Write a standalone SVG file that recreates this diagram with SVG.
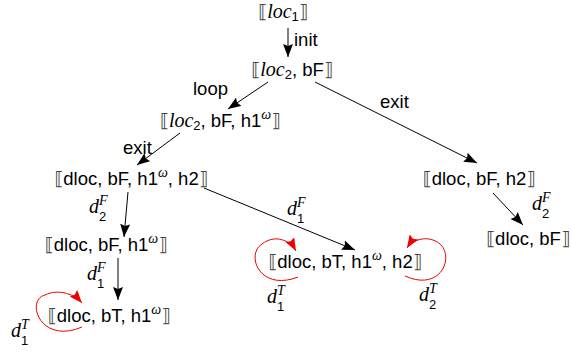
<svg xmlns="http://www.w3.org/2000/svg" width="571" height="352" viewBox="0 0 571 352">
<defs>
<style>
text{font-family:"Liberation Sans","DejaVu Sans",sans-serif;font-size:18.5px;fill:#000}
.n{text-anchor:middle}
.b{font-family:"DejaVu Sans",sans-serif;fill:#444}
.m{font-family:"Liberation Serif","DejaVu Serif",serif;font-style:italic;font-size:20px}
.s{font-size:13px}
.ms{font-family:"Liberation Serif","DejaVu Serif",serif;font-style:italic;font-size:14px}
.e{fill:none;stroke:#000;stroke-width:1}
.r{fill:none;stroke:#e00;stroke-width:1}
</style>
<marker id="ak" markerWidth="13" markerHeight="10" refX="13" refY="5" orient="auto" markerUnits="userSpaceOnUse"><path d="M0,0 L13,5 L0,10 L2,5 z" fill="#000"/></marker>
<marker id="ar" markerWidth="13" markerHeight="10" refX="13" refY="5" orient="auto" markerUnits="userSpaceOnUse"><path d="M0,0 L13,5 L0,10 L2,5 z" fill="#e00"/></marker>
</defs>
<g id="connectors">
<path class="e" d="M288,28 L288,57" marker-end="url(#ak)"/>
<path class="e" d="M268,82 L228,109" marker-end="url(#ak)"/>
<path class="e" d="M180,133 L137,165" marker-end="url(#ak)"/>
<path class="e" d="M315,82 L477,163" marker-end="url(#ak)"/>
<path class="e" d="M493,193 L523,225" marker-end="url(#ak)"/>
<path class="e" d="M128,192 L124,237" marker-end="url(#ak)"/>
<path class="e" d="M118,258 L118,300" marker-end="url(#ak)"/>
<path class="e" d="M204,188 L355,250" marker-end="url(#ak)"/>
<path class="r" d="M82,327 C40,345 25,300 45,295 C60,288 75,295 82,303" marker-end="url(#ar)"/>
<path class="r" d="M298,277 C260,292 245,255 262,244 C275,234 290,240 296,251" marker-end="url(#ar)"/>
<path class="r" d="M405,276 C440,292 455,258 440,244 C428,234 412,240 407,248" marker-end="url(#ar)"/>
<text x="294" y="46">init</text>
<text x="193" y="95">loop</text>
<text x="123" y="154">exit</text>
<text x="380" y="108">exit</text>
<g id="lbl-d2F-left"><text class="m" x="89" y="213">d</text><text class="ms" x="99" y="205">F</text><text class="s" x="99" y="221">2</text></g>
<g id="lbl-d1F-mid"><text class="m" x="287" y="215">d</text><text class="ms" x="297" y="207">F</text><text class="s" x="297" y="223">1</text></g>
<g id="lbl-d1F-low"><text class="m" x="87" y="280">d</text><text class="ms" x="97" y="272">F</text><text class="s" x="97" y="288">1</text></g>
<g id="lbl-d2F-right"><text class="m" x="532" y="210">d</text><text class="ms" x="542" y="202">F</text><text class="s" x="542" y="218">2</text></g>
<g id="lbl-d1T-left"><text class="m" x="11" y="337">d</text><text class="ms" x="21" y="329">T</text><text class="s" x="21" y="345">1</text></g>
<g id="lbl-d1T-mid"><text class="m" x="267" y="303">d</text><text class="ms" x="277" y="295">T</text><text class="s" x="277" y="311">1</text></g>
<g id="lbl-d2T"><text class="m" x="419" y="301">d</text><text class="ms" x="429" y="293">T</text><text class="s" x="429" y="309">2</text></g>
</g>
<g id="n1"><text class="n" x="283" y="18"><tspan class="b">⟦</tspan><tspan class="m">loc</tspan><tspan class="s" dy="3">1</tspan><tspan class="b" dy="-3">⟧</tspan></text></g>
<g id="n2"><text class="n" x="292" y="76"><tspan class="b">⟦</tspan><tspan class="m">loc</tspan><tspan class="s" dy="3">2</tspan><tspan dy="-3">, bF</tspan><tspan class="b">⟧</tspan></text></g>
<g id="n3"><text class="n" x="220" y="127"><tspan class="b">⟦</tspan><tspan class="m">loc</tspan><tspan class="s" dy="3">2</tspan><tspan dy="-3">, bF, h1</tspan><tspan class="ms" dy="-8">ω</tspan><tspan class="b" dy="8">⟧</tspan></text></g>
<g id="n4"><text class="n" x="131" y="185"><tspan class="b">⟦</tspan>dloc, bF, h1<tspan class="ms" dy="-8">ω</tspan><tspan dy="8">, h2</tspan><tspan class="b">⟧</tspan></text></g>
<g id="n5"><text class="n" x="479" y="185"><tspan class="b">⟦</tspan>dloc, bF, h2<tspan class="b">⟧</tspan></text></g>
<g id="n6"><text class="n" x="528" y="245"><tspan class="b">⟦</tspan>dloc, bF<tspan class="b">⟧</tspan></text></g>
<g id="n7"><text class="n" x="106" y="251"><tspan class="b">⟦</tspan>dloc, bF, h1<tspan class="ms" dy="-8">ω</tspan><tspan class="b" dy="8">⟧</tspan></text></g>
<g id="n8"><text class="n" x="109" y="322"><tspan class="b">⟦</tspan>dloc, bT, h1<tspan class="ms" dy="-8">ω</tspan><tspan class="b" dy="8">⟧</tspan></text></g>
<g id="n9"><text class="n" x="345" y="268"><tspan class="b">⟦</tspan>dloc, bT, h1<tspan class="ms" dy="-8">ω</tspan><tspan dy="8">, h2</tspan><tspan class="b">⟧</tspan></text></g>
</svg>
